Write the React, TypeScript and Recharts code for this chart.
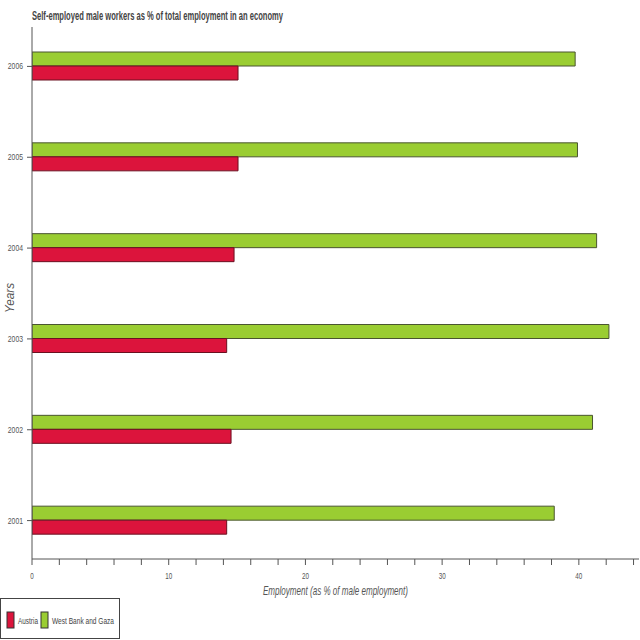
import React from 'react';
import { BarChart, Bar, XAxis, YAxis } from 'recharts';

const years = ['2001', '2002', '2003', '2004', '2005', '2006'];
const austria = [14.24, 14.56, 14.24, 14.78, 15.07, 15.07];
const westBankGaza = [38.2, 41.0, 42.2, 41.3, 39.9, 39.73];
const xTicks = [0, 2, 4, 6, 8, 10, 12, 14, 16, 18, 20, 22, 24, 26, 28, 30, 32, 34, 36, 38, 40, 42, 44];

const RED = '#DC143C';
const GREEN = '#9ACD32';
const AXIS = '#555';
const FONT = "'Liberation Sans', Arial, sans-serif";

// top-to-bottom order is 2006 .. 2001
const data = years
  .map((year, i) => ({ year, austria: austria[i], wbg: westBankGaza[i] }))
  .reverse();

// condensed text: squeeze glyphs to roughly the reference widths
const narrow = (s: string, perChar: number) => Math.max(3, s.length * perChar);

function XTick(props: any) {
  const { x, y, payload } = props;
  const v = payload.value as number;
  if (v % 10 !== 0) return null;
  const s = String(v);
  return (
    <text x={x} y={y + 12} textAnchor="middle" fontFamily={FONT} fontSize={9} fill={AXIS}
      textLength={narrow(s, 3.5)} lengthAdjust="spacingAndGlyphs">
      {s}
    </text>
  );
}

function YTick(props: any) {
  const { x, y, payload } = props;
  const s = String(payload.value);
  return (
    <text x={x - 2} y={y + 3} textAnchor="end" fontFamily={FONT} fontSize={9} fill={AXIS}
      textLength={narrow(s, 3.8)} lengthAdjust="spacingAndGlyphs">
      {s}
    </text>
  );
}

function LegendBox() {
  return (
    <svg width={200} height={42} style={{ position: 'absolute', left: 0, top: 598 }}>
      <rect x={0.5} y={0.5} width={119} height={40} fill="#fff" stroke="#444" />
      <rect x={7} y={14} width={7} height={16} fill={RED} stroke="#333" />
      <text x={18} y={26} fontFamily={FONT} fontSize={9} fill="#444" textLength={20} lengthAdjust="spacingAndGlyphs">
        Austria
      </text>
      <rect x={41} y={14} width={7} height={16} fill={GREEN} stroke="#333" />
      <text x={52} y={26} fontFamily={FONT} fontSize={9} fill="#444" textLength={62} lengthAdjust="spacingAndGlyphs">
        West Bank and Gaza
      </text>
    </svg>
  );
}

export default function App() {
  return (
    <div style={{ position: 'absolute', left: 0, top: 0, width: 640, height: 640, background: '#fff' }}>
      <div style={{ position: 'absolute', left: 0, top: 0 }}>
        <BarChart
          width={640}
          height={640}
          data={data}
          layout="vertical"
          margin={{ top: 27, right: 1, left: 0, bottom: 41 }}
          barGap={0}
          barSize={14}
        >
          <XAxis
            type="number"
            domain={[0, 44.4]}
            ticks={xTicks}
            allowDataOverflow
            interval={0}
            height={40}
            tick={<XTick />}
            tickSize={6}
            stroke={AXIS}
            label={(p: any) => {
              const vb = p.viewBox;
              return (
                <text x={vb.x + vb.width / 2} y={595} textAnchor="middle" fontFamily={FONT}
                  fontSize={13} fontStyle="italic" fill={AXIS} textLength={145} lengthAdjust="spacingAndGlyphs">
                  Employment (as % of male employment)
                </text>
              );
            }}
          />
          <YAxis
            type="category"
            dataKey="year"
            width={32}
            padding={{ top: -6, bottom: -7 }}
            tick={<YTick />}
            tickSize={5}
            stroke={AXIS}
            label={() => (
              <text x={14} y={298} transform="rotate(-90 14 298)" textAnchor="middle" fontFamily={FONT}
                fontSize={12} fontStyle="italic" fill={AXIS} textLength={30} lengthAdjust="spacingAndGlyphs">
                Years
              </text>
            )}
          />
          <Bar dataKey="wbg" name="West Bank and Gaza" fill={GREEN} stroke="#4a5530" strokeWidth={1} isAnimationActive={false} />
          <Bar dataKey="austria" name="Austria" fill={RED} stroke="#6a1020" strokeWidth={1} isAnimationActive={false} />
        </BarChart>
      </div>
      <svg width={640} height={24} style={{ position: 'absolute', left: 0, top: 0 }}>
        <text x={32} y={20} fontFamily={FONT} fontWeight="bold" fontSize={12} fill="#444"
          textLength={251} lengthAdjust="spacingAndGlyphs">
          Self-employed male workers as % of total employment in an economy
        </text>
      </svg>
      <LegendBox />
    </div>
  );
}
